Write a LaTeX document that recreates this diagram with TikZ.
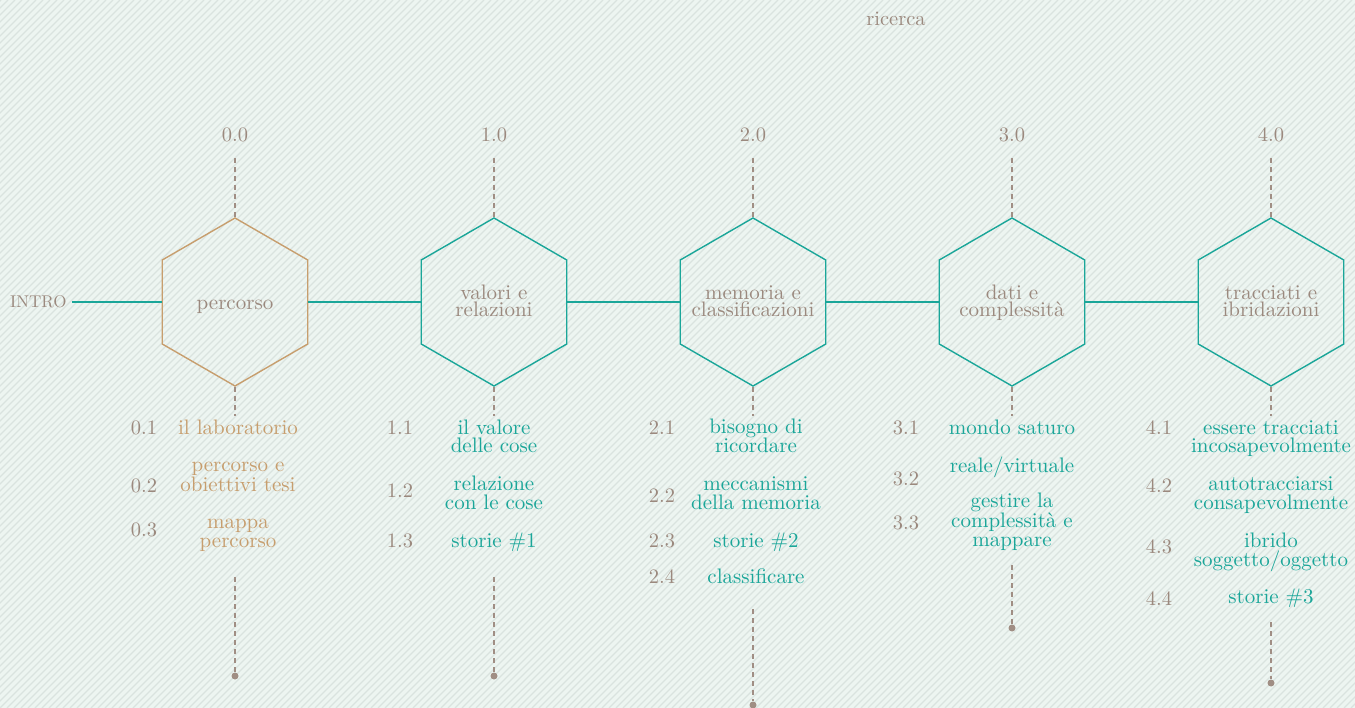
\documentclass[tikz,border=0pt]{standalone}
\usepackage{fontspec}
\setmainfont{lmroman10-regular.otf}
\usetikzlibrary{shapes.geometric}
\definecolor{bg}{RGB}{237,245,241}
\definecolor{stripe}{RGB}{218,227,223}
\definecolor{tealc}{RGB}{26,166,153}
\definecolor{tanc}{RGB}{199,158,110}
\definecolor{txt}{RGB}{155,137,126}
\definecolor{dashc}{RGB}{160,142,132}
\begin{document}
\begin{tikzpicture}[x=1pt,y=-1pt,
  hexa/.style={regular polygon, regular polygon sides=6, shape border rotate=30, minimum size=168pt, inner sep=0pt, draw, line width=1.4pt},
  lbl/.style={font=\fontsize{21}{17}\selectfont, text=txt, align=center, anchor=base, inner sep=0pt},
  num/.style={font=\fontsize{20.5}{18}\selectfont, text=txt, anchor=base, inner sep=0pt},
  item/.style={font=\fontsize{21}{18.5}\selectfont, align=center, anchor=base, inner sep=0pt},
  conn/.style={tealc, line width=2pt},
  dsh/.style={dashc, line width=1.4pt, dash pattern=on 5pt off 4pt},
  dotn/.style={circle, fill=dashc, inner sep=0pt, minimum size=7pt}
]
\fill[bg] (0,0) rectangle (1355,708);
\begin{scope}
\clip (0,0) rectangle (1355,708);
\foreach \i in {-728,-721,...,1362} \draw[stripe, line width=1.2pt] (\i,708) -- (\i+708,0);
\end{scope}
\useasboundingbox (0,0) rectangle (1355,708);

\node[num] (ric) at (896,26) {ricerca};

% hexagons
\node[hexa, draw=tanc] (h0) at (235,302) {};
\node[hexa, draw=tealc] (h1) at (494,302) {};
\node[hexa, draw=tealc] (h2) at (753,302) {};
\node[hexa, draw=tealc] (h3) at (1012,302) {};
\node[hexa, draw=tealc] (h4) at (1271,302) {};

\node[lbl] (l0) at (235,310) {percorso};
\node[lbl] (l1) at (494,317) {valori e\\relazioni};
\node[lbl] (l2) at (753,317) {memoria e\\classificazioni};
\node[lbl] (l3) at (1012,317) {dati e\\complessità};
\node[lbl] (l4) at (1271,317) {tracciati e\\ibridazioni};

% intro and connectors
\node[font=\fontsize{17}{18}\selectfont, text=txt, anchor=base west, inner sep=0pt] (intro) at (10,308) {INTRO};
\coordinate (i0) at (72,302);
\draw[conn] (i0) -- (h0);
\draw[conn] (h0) -- (h1);
\draw[conn] (h1) -- (h2);
\draw[conn] (h2) -- (h3);
\draw[conn] (h3) -- (h4);

% top numbers and dashed lines
\foreach \k/\x in {0/235,1/494,2/753,3/1012,4/1271}{
  \node[num] (t\k) at (\x,142) {\k.0};
  \coordinate (a\k) at (\x,158);
  \coordinate (b\k) at (\x,416);
  \draw[dsh] (a\k) -- (h\k);
  \draw[dsh] (h\k) -- (b\k);
}

% bottom dashed lines with dots
\foreach \k/\x/\ya/\yb in {0/235/577/676,1/494/577/676,2/753/609/705,3/1012/565/628,4/1271/622/683}{
  \coordinate (c\k) at (\x,\ya);
  \node[dotn] (d\k) at (\x,\yb) {};
  \draw[dsh] (c\k) -- (d\k);
}

% column 0
\node[num] (n01) at (144,435) {0.1};
\node[num] (n02) at (144,492) {0.2};
\node[num] (n03) at (144,536) {0.3};
\node[item, text=tanc] (s01) at (238,435) {il laboratorio};
\node[item, text=tanc] (s02) at (238,491) {percorso e\\obiettivi tesi};
\node[item, text=tanc] (s03) at (238,547) {mappa\\percorso};

% column 1
\node[num] (n11) at (400,435) {1.1};
\node[num] (n12) at (400,497) {1.2};
\node[num] (n13) at (400,547) {1.3};
\node[item, text=tealc] (s11) at (494,453) {il valore\\delle cose};
\node[item, text=tealc] (s12) at (494,509) {relazione\\con le cose};
\node[item, text=tealc] (s13) at (494,547) {storie \#1};

% column 2
\node[num] (n21) at (662,435) {2.1};
\node[num] (n22) at (662,502) {2.2};
\node[num] (n23) at (662,547) {2.3};
\node[num] (n24) at (662,583) {2.4};
\node[item, text=tealc] (s21) at (756,453) {bisogno di\\ricordare};
\node[item, text=tealc] (s22) at (756,509) {meccanismi\\della memoria};
\node[item, text=tealc] (s23) at (756,547) {storie \#2};
\node[item, text=tealc] (s24) at (756,583) {classificare};

% column 3
\node[num] (n31) at (906,435) {3.1};
\node[num] (n32) at (906,485) {3.2};
\node[num] (n33) at (906,529) {3.3};
\node[item, text=tealc] (s31) at (1012,435) {mondo saturo};
\node[item, text=tealc] (s32) at (1012,472) {reale/virtuale};
\node[item, text=tealc] (s33) at (1012,546) {gestire la\\complessità e\\mappare};

% column 4
\node[num] (n41) at (1159,435) {4.1};
\node[num] (n42) at (1159,492) {4.2};
\node[num] (n43) at (1159,553) {4.3};
\node[num] (n44) at (1159,605) {4.4};
\node[item, text=tealc] (s41) at (1271,453) {essere tracciati\\incosapevolmente};
\node[item, text=tealc] (s42) at (1271,509) {autotracciarsi\\consapevolmente};
\node[item, text=tealc] (s43) at (1271,566) {ibrido\\soggetto/oggetto};
\node[item, text=tealc] (s44) at (1271,603) {storie \#3};
\end{tikzpicture}
\end{document}
